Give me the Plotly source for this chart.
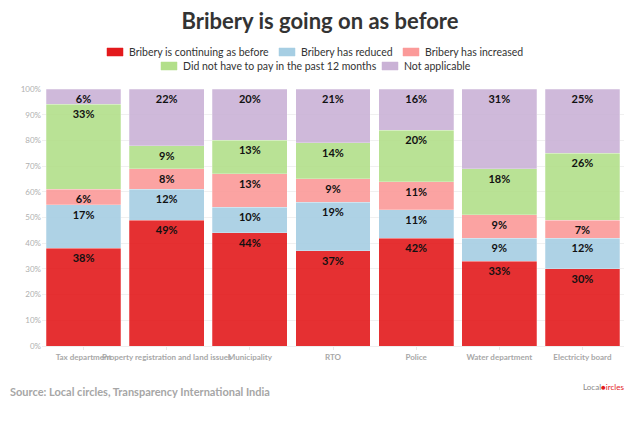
import plotly.graph_objects as go

categories = ["Tax department", "Property registration and land issues", "Municipality",
              "RTO", "Police", "Water department", "Electricity board"]
continuing = [38, 49, 44, 37, 42, 33, 30]
reduced = [17, 12, 10, 19, 11, 9, 12]
increased = [6, 8, 13, 9, 11, 9, 7]
did_not_pay = [33, 9, 13, 14, 20, 18, 26]
not_applicable = [6, 22, 20, 21, 16, 31, 25]

names = ["Bribery is continuing as before", "Bribery has reduced", "Bribery has increased",
         "Did not have to pay in the past 12 months", "Not applicable"]
values = [continuing, reduced, increased, did_not_pay, not_applicable]
colors = ["#e31a1c", "#a6cee3", "#fb9a99", "#b2df8a", "#cab2d6"]

W, H = 640, 431
L, R, T, B = 42, 624, 89, 346


def px(x):
    return (x - L) / (R - L)


def py(y):
    return (B - y) / (B - T)


fig = go.Figure()
for name, vals, color in zip(names, values, colors):
    fig.add_trace(go.Bar(
        x=categories, y=vals, name=name, showlegend=False,
        marker=dict(color=color, opacity=0.9, line=dict(color="rgba(255,255,255,0.5)", width=0.5)),
        text=[f"{v}%" for v in vals],
        textposition="inside", insidetextanchor="end",
        textfont=dict(family="Lato", size=11, color="#111111", weight="bold"),
        constraintext="none",
        hoverinfo="skip",
    ))

fig.update_layout(
    barmode="stack", bargap=0.1,
    width=W, height=H,
    margin=dict(l=L, r=W - R, t=T, b=H - B, autoexpand=False),
    paper_bgcolor="white", plot_bgcolor="white",
    font=dict(family="Lato", color="#333333"),
    title=dict(text="<b>Bribery is going on as before</b>", x=0.5, xanchor="center",
               xref="container", yref="container",
               y=1 - 21 / H, yanchor="middle",
               font=dict(family="Lato", size=22, color="#333333")),
    showlegend=False,
)
fig.update_yaxes(range=[0, 100], dtick=10, ticksuffix="%", showgrid=True, gridcolor="#f0f0f0",
                 tickfont=dict(family="Lato", size=8, color="#b0b0b0"), zeroline=False,
                 automargin=False, fixedrange=True)
fig.update_xaxes(tickfont=dict(family="Lato", size=8, color="#a8a8a8", weight="bold"),
                 ticks="outside", ticklen=3, tickcolor="#e8e8e8", showline=True,
                 linecolor="#eeeeee", tickangle=0, automargin=False)

# legend (two centred rows, as in the reference)
legend_items = [
    (0, 107, 52), (1, 279, 52), (2, 403, 52),
    (3, 161, 66), (4, 382, 66),
]
for idx, sx, sy in legend_items:
    fig.add_shape(type="rect", xref="paper", yref="paper",
                  x0=px(sx), x1=px(sx + 16), y0=py(sy + 4), y1=py(sy - 4),
                  fillcolor=colors[idx], line=dict(color=colors[idx], width=0.5))
    fig.add_annotation(text=names[idx], xref="paper", yref="paper",
                       x=px(sx + 20), y=py(sy), xanchor="left", yanchor="middle",
                       showarrow=False,
                       font=dict(family="Lato", size=10.5, color="#333333"))

fig.add_annotation(text="<b>Source: Local circles, Transparency International India</b>",
                   xref="paper", yref="paper", x=px(8), y=py(391),
                   xanchor="left", yanchor="middle", showarrow=False,
                   font=dict(family="Lato", size=11, color="#a6a6a6"))
fig.add_annotation(text="Local<span style='color:#e31a1c'>●ircles</span>",
                   xref="paper", yref="paper", x=px(603), y=py(387),
                   xanchor="center", yanchor="middle", showarrow=False,
                   font=dict(family="Lato", size=8, color="#888888"))

fig.write_html("out.html", config={"displayModeBar": False},
               post_script="document.body.style.margin='0';")
